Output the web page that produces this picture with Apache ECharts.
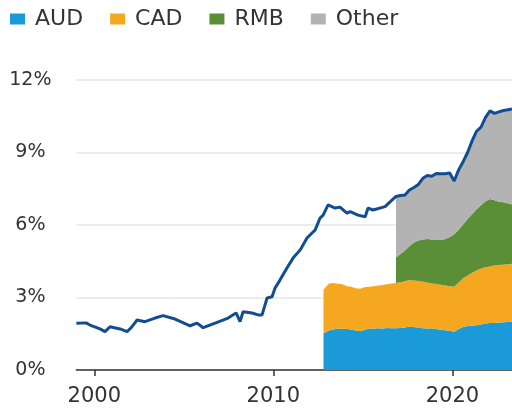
<!DOCTYPE html>
<html>
<head>
<meta charset="utf-8">
<script src="https://cdn.jsdelivr.net/npm/echarts@6/dist/echarts.min.js"></script>
<style>
html,body{margin:0;padding:0;background:#fff;}
#chart{width:512px;height:409px;}
</style>
</head>
<body>
<div id="chart"></div>
<script>
// Stacked shares (% of allocated reserves), shared x positions (decimal years)
var stackYears = [2012.80, 2013.10, 2013.35, 2013.60, 2013.85, 2014.10, 2014.35, 2014.60, 2014.85, 2015.10,
  2015.35, 2015.60, 2015.85, 2016.10, 2016.35, 2016.60, 2016.85, 2017.10, 2017.35, 2017.60,
  2017.85, 2018.10, 2018.35, 2018.60, 2018.85, 2019.10, 2019.35, 2019.60, 2019.85, 2020.10,
  2020.35, 2020.60, 2020.85, 2021.10, 2021.35, 2021.60, 2021.85, 2022.10, 2022.35, 2022.60,
  2022.85, 2023.10, 2023.33];
var audValues = [1.52, 1.63, 1.68, 1.72, 1.71, 1.70, 1.68, 1.63, 1.60, 1.66,
  1.72, 1.72, 1.73, 1.72, 1.74, 1.73, 1.73, 1.74, 1.76, 1.80,
  1.78, 1.75, 1.73, 1.72, 1.73, 1.70, 1.67, 1.65, 1.62, 1.58,
  1.70, 1.78, 1.82, 1.84, 1.85, 1.88, 1.92, 1.94, 1.95, 1.97,
  1.98, 1.99, 2.00];
var cadValues = [1.80, 1.95, 1.92, 1.85, 1.84, 1.77, 1.76, 1.75, 1.76, 1.76,
  1.73, 1.75, 1.77, 1.80, 1.81, 1.85, 1.87, 1.89, 1.91, 1.92,
  1.92, 1.93, 1.92, 1.90, 1.85, 1.86, 1.86, 1.85, 1.85, 1.87,
  1.92, 2.02, 2.08, 2.18, 2.27, 2.32, 2.33, 2.34, 2.37, 2.37,
  2.38, 2.39, 2.40];
var rmbValues = [null, null, null, null, null, null, null, null, null, null,
  null, null, null, null, null, null, 1.06, 1.17, 1.28, 1.40,
  1.58, 1.68, 1.75, 1.80, 1.82, 1.82, 1.85, 1.92, 2.03, 2.17,
  2.18, 2.22, 2.35, 2.43, 2.53, 2.62, 2.73, 2.80, 2.70, 2.62,
  2.58, 2.52, 2.45];
var otherValues = [null, null, null, null, null, null, null, null, null, null,
  null, null, null, null, null, null, 2.52, 2.42, 2.29, 2.33,
  2.27, 2.32, 2.53, 2.63, 2.62, 2.75, 2.74, 2.70, 2.65, 2.20,
  2.48, 2.60, 2.75, 3.03, 3.23, 3.23, 3.47, 3.64, 3.60, 3.72,
  3.80, 3.87, 3.95];

// Total non-traditional reserve currency share (line)
var totalYears = [1999.00, 1999.54, 1999.76, 2000.32, 2000.60, 2000.88, 2001.44, 2001.83, 2002.05, 2002.39,
  2002.83, 2003.39, 2003.84, 2004.51, 2005.35, 2005.74, 2006.08, 2006.75, 2007.47, 2007.92,
  2008.14, 2008.31, 2008.81, 2009.15, 2009.37, 2009.65, 2009.93, 2010.09, 2010.37, 2010.76,
  2011.10, 2011.49, 2011.88, 2012.16, 2012.33, 2012.61, 2012.78, 2013.06, 2013.45, 2013.72,
  2014.11, 2014.29, 2014.73, 2015.13, 2015.29, 2015.57, 2016.24, 2016.52,
  2016.85, 2017.10, 2017.35, 2017.60, 2017.85, 2018.10, 2018.35, 2018.60, 2018.85, 2019.10,
  2019.35, 2019.60, 2019.85, 2020.10, 2020.35, 2020.60, 2020.85, 2021.10, 2021.35, 2021.60,
  2021.85, 2022.10, 2022.35, 2022.60, 2022.85, 2023.10, 2023.33];
var totalValues = [1.93, 1.95, 1.86, 1.70, 1.59, 1.79, 1.70, 1.59, 1.74, 2.07,
  2.00, 2.15, 2.25, 2.11, 1.83, 1.94, 1.75, 1.94, 2.15, 2.36,
  2.00, 2.41, 2.36, 2.28, 2.28, 2.98, 3.03, 3.38, 3.72, 4.22,
  4.63, 4.96, 5.46, 5.67, 5.79, 6.29, 6.41, 6.83, 6.70, 6.74,
  6.49, 6.55, 6.41, 6.34, 6.70, 6.62, 6.76, 6.96,
  7.18, 7.22, 7.24, 7.45, 7.55, 7.68, 7.93, 8.05, 8.02, 8.13,
  8.12, 8.12, 8.15, 7.82, 8.28, 8.62, 9.00, 9.48, 9.88, 10.05,
  10.45, 10.72, 10.62, 10.68, 10.74, 10.77, 10.80];

var xTickYears = [2000, 2010, 2020];
var xRange = [1999.0, 2023.33];
var legendNames = ['AUD', 'CAD', 'RMB', 'Other'];

var FONT = 'DejaVu Sans';
// value first, year second (encode maps them), so the library stacks the value dimension
function pairs(xs, ys) { return xs.map(function (x, i) { return [ys[i] == null ? '-' : ys[i], x]; }); }

var colors = { AUD: '#1a9bd7', CAD: '#f5a81f', RMB: '#5b8f37', Other: '#b3b3b3' };
var stackData = { AUD: audValues, CAD: cadValues, RMB: rmbValues, Other: otherValues };

var series = legendNames.map(function (n) {
  return {
    name: n, type: 'line', stack: 'total', data: pairs(stackYears, stackData[n]),
    encode: { x: 1, y: 0 },
    symbol: 'none', showSymbol: false,
    itemStyle: { color: colors[n] },
    lineStyle: { width: 0, color: colors[n] },
    areaStyle: { color: colors[n], opacity: 1 },
    z: 2
  };
});
series.push({
  name: 'Total', type: 'line', data: pairs(totalYears, totalValues),
  encode: { x: 1, y: 0 },
  symbol: 'none', showSymbol: false,
  itemStyle: { color: '#114d91' },
  lineStyle: { width: 3, color: '#114d91' }, z: 5
});

var chart = echarts.init(document.getElementById('chart'), null, { renderer: 'canvas' });
chart.setOption({
  animation: false,
  backgroundColor: '#ffffff',
  legend: {
    data: legendNames, left: 10, top: 8, padding: 0, itemGap: 27,
    icon: 'rect', itemWidth: 15, itemHeight: 11, selectedMode: false,
    textStyle: { fontFamily: FONT, fontSize: 22, color: '#333', padding: [0, 0, 0, 5] }
  },
  grid: { left: 76.4, right: 0, top: 80, bottom: 39, containLabel: false },
  xAxis: {
    type: 'value', min: xRange[0], max: xRange[1],
    axisLine: { show: true, onZero: false, lineStyle: { color: '#333', width: 1.5 } },
    axisTick: { show: true, customValues: xTickYears, length: 6, lineStyle: { color: '#333', width: 1.5 } },
    axisLabel: { customValues: xTickYears, fontFamily: FONT, fontSize: 21, color: '#333', margin: 16,
      formatter: function (v) { return String(Math.round(v)); } },
    splitLine: { show: false }
  },
  yAxis: {
    type: 'value', min: 0, max: 12, interval: 3,
    axisLine: { show: false }, axisTick: { show: false },
    axisLabel: { fontFamily: FONT, fontSize: 19, color: '#333', align: 'center', margin: 46,
      formatter: '{value}%' },
    splitLine: { show: true, lineStyle: { color: '#e6e6e6', width: 1.5 } }
  },
  series: series
});
</script>
</body>
</html>
